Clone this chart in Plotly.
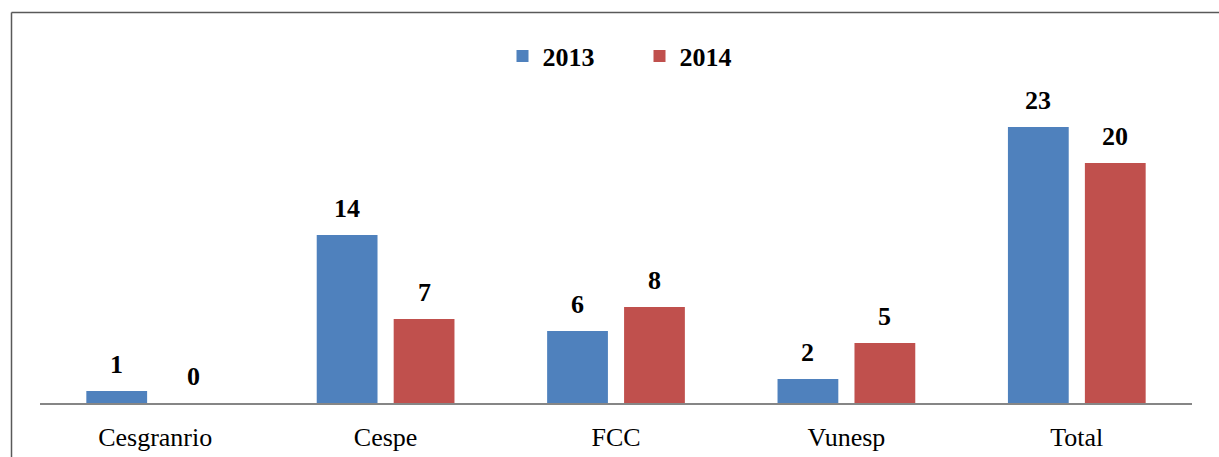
import plotly.graph_objects as go

categories = ["Cesgranrio", "Cespe", "FCC", "Vunesp", "Total"]
values_2013 = [1, 14, 6, 2, 23]
values_2014 = [0, 7, 8, 5, 20]
series_names = ["2013", "2014"]

BLUE = "#4F81BD"
RED = "#C0504D"
FONT = "Liberation Serif, Times New Roman, serif"
FS = 26

fig = go.Figure()
series = [(series_names[0], values_2013, BLUE, -38.5), (series_names[1], values_2014, RED, 38.5)]
annotations = []
for name, vals, col, dx in series:
    fig.add_trace(go.Bar(
        x=categories, y=vals, name=name, marker=dict(color=col, line=dict(width=0)),
        hoverinfo="x+y+name",
    ))
    for c, v in zip(categories, vals):
        annotations.append(dict(
            x=c, y=v, xref="x", yref="y", text=f"<b>{v}</b>", showarrow=False,
            xshift=dx, yshift=10, yanchor="bottom", xanchor="center",
            font=dict(family=FONT, size=FS, color="black"),
        ))

W, H = 1219, 457
ml, mr, mt, mb = 40, 27, 67, 54
pw = W - ml - mr
ph = H - mt - mb

def px_x(p):
    return (p - ml) / pw

def px_y(p):
    return (H - mb - p) / ph

fig.update_layout(
    width=W, height=H,
    margin=dict(l=ml, r=mr, t=mt, b=mb, autoexpand=False),
    paper_bgcolor="white", plot_bgcolor="white",
    barmode="group", bargap=0.332, bargroupgap=0.21,
    font=dict(family=FONT, color="black"),
    showlegend=True,
    annotations=annotations,
    legend=dict(orientation="h", x=0.5 + 23.5 / pw, xanchor="center", y=px_y(56), yanchor="middle",
                font=dict(family=FONT, size=FS, color="black", weight="bold"),
                entrywidth=92, entrywidthmode="pixels", bgcolor="rgba(0,0,0,0)",
                itemclick=False),
    xaxis=dict(showline=True, linecolor="#868686", linewidth=2, ticks="",
               tickfont=dict(family=FONT, size=FS, color="black"), showgrid=False,
               zeroline=False, fixedrange=True, ticklabelstandoff=10, automargin=False),
    yaxis=dict(range=[0, 28], visible=False, showgrid=False, zeroline=False, fixedrange=True,
               automargin=False),
    shapes=[
        dict(type="line", xref="paper", yref="paper", x0=px_x(11.5), x1=px_x(1225),
             y0=px_y(12.5), y1=px_y(12.5), line=dict(color="#595959", width=1.5)),
        dict(type="line", xref="paper", yref="paper", x0=px_x(11.5), x1=px_x(11.5),
             y0=px_y(12.5), y1=px_y(470), line=dict(color="#595959", width=1.5)),
    ],
)

fig.write_html("out.html", config={"displayModeBar": False},
               post_script="document.body.style.margin='0';document.body.style.overflow='hidden';")
